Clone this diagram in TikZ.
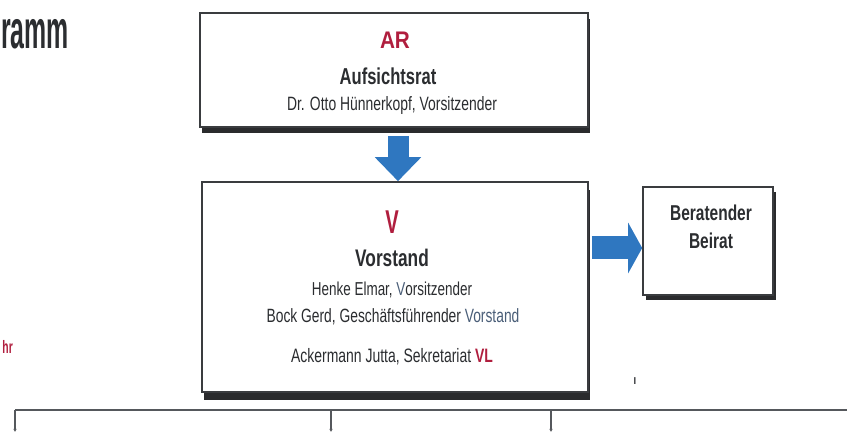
\documentclass[tikz,border=0pt]{standalone}
\usepackage{fontspec}
\setmainfont{Liberation Sans}[FakeStretch=0.72]
\usetikzlibrary{arrows.meta,shadows,calc}
\definecolor{ink}{HTML}{2B2D30}
\definecolor{boxline}{HTML}{3A3C3F}
\definecolor{shadowc}{HTML}{2A2B2D}
\definecolor{redc}{HTML}{B01E3E}
\definecolor{bluec}{HTML}{2F77C0}
\definecolor{slate}{HTML}{4A5E78}
\definecolor{linec}{HTML}{55585C}
\tikzset{
  orgbox/.style={draw=boxline, line width=1.6pt, fill=white, inner sep=0pt},
  txt/.style={text=ink, inner sep=0pt, font=\fontsize{#1}{#1}\selectfont},
  btxt/.style={text=ink, inner sep=0pt, font=\fontsize{#1}{#1}\selectfont\bfseries},
  blockdown/.style={draw=bluec, line width=21pt, -{Triangle[width=45pt,length=24pt]}},
  blockright/.style={draw=bluec, line width=23pt, -{Triangle[width=50pt,length=14pt]}},
  busline/.style={draw=linec, line width=1.8pt},
  dropline/.style={draw=linec, line width=1.2pt, -{Latex[length=3pt,width=3.5pt]}}
}
\begin{document}
\begin{tikzpicture}[x=1pt,y=-1pt]
\useasboundingbox (0,0) rectangle (847,435);

% title fragment and side text
\node[btxt=54, anchor=east] (title) at (69,34) {\scalebox{0.64}[1]{ramm}};
\node[btxt=18, anchor=east, text=redc] (sidetxt) at (13,347) {\scalebox{0.8}[1]{hr}};

% boxes
\node[orgbox, minimum width=388pt, minimum height=114pt,
  drop shadow={shadow xshift=2pt, shadow yshift=-6pt, fill=shadowc, opacity=1}] (AR) at (394,70) {};
\node[orgbox, minimum width=386pt, minimum height=210pt,
  drop shadow={shadow xshift=2pt, shadow yshift=-8pt, fill=shadowc, opacity=1}] (V) at (395,287) {};
\node[orgbox, minimum width=130pt, minimum height=108pt,
  drop shadow={shadow xshift=3pt, shadow yshift=-5pt, fill=shadowc, opacity=1}] (Beirat) at (708,241) {};

% AR texts
\node[btxt=24, text=redc] (ARabbr) at (395,40) {\scalebox{1.2}[1]{AR}};
\node[btxt=23] (ARname) at (388,76) {Aufsichtsrat};
\node[txt=19.3] (ARchair) at (392,106) {Dr. Otto Hünnerkopf, Vorsitzender};

% V texts
\node[btxt=33, text=redc] (Vabbr) at (392,222) {\scalebox{0.85}[1]{V}};
\node[btxt=24] (Vname) at (392,258) {Vorstand};
\node[txt=18.7] (Vchair) at (392,290) {Henke Elmar, {\color{slate}V}orsitzender};
\node[txt=19.2] (Vceo) at (393,317) {Bock Gerd, Geschäftsführender {\color{slate}Vorstand}};
\node[txt=19.4] (Vsec) at (392,357) {Ackermann Jutta, Sekretariat {\bfseries\color{redc}VL}};

% Beirat texts
\node[btxt=21.5] (Bline1) at (711,213) {Beratender};
\node[btxt=21.5] (Bline2) at (711,241) {Beirat};

% small mark
\node[btxt=13] (mark) at (635,381) {ı};

% block arrows
\draw[blockdown] ([xshift=4pt,yshift=-8pt]AR.south) -- ([xshift=3pt]V.north);
\draw[blockright] ($(Beirat.west -| V.east)+(3,7)$) -- ($(Beirat.west)+(0,7)$);

% bus line with drops
\coordinate (busL) at (15,410);
\coordinate (busR) at (847,410);
\coordinate (d1) at (15,432);
\coordinate (d2a) at (331,410);
\coordinate (d2) at (331,432);
\coordinate (d3a) at (551,410);
\coordinate (d3) at (551,432);
\draw[busline] (busR) -- (busL);
\draw[dropline] (busL) -- (d1);
\draw[dropline] (d2a) -- (d2);
\draw[dropline] (d3a) -- (d3);
\end{tikzpicture}
\end{document}
